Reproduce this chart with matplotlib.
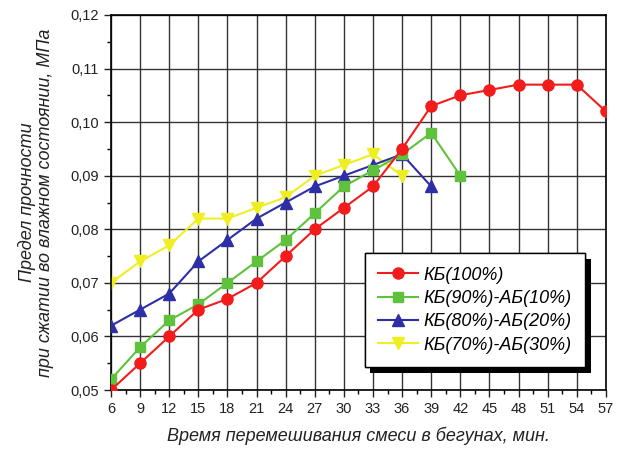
import matplotlib.pyplot as plt
import matplotlib.patheffects as pe
from matplotlib.ticker import MultipleLocator, FuncFormatter

plt.rcParams['font.family'] = ['Liberation Sans', 'DejaVu Sans']

# время перемешивания, мин
t_kb100 = [6, 9, 12, 15, 18, 21, 24, 27, 30, 33, 36, 39, 42, 45, 48, 51, 54, 57]
kb100 = [0.050, 0.055, 0.060, 0.065, 0.067, 0.070, 0.075, 0.080, 0.084, 0.088,
         0.095, 0.103, 0.105, 0.106, 0.107, 0.107, 0.107, 0.102]

t_kb90 = [6, 9, 12, 15, 18, 21, 24, 27, 30, 33, 36, 39, 42]
kb90 = [0.052, 0.058, 0.063, 0.066, 0.070, 0.074, 0.078, 0.083, 0.088, 0.091,
        0.094, 0.098, 0.090]

t_kb80 = [6, 9, 12, 15, 18, 21, 24, 27, 30, 33, 36, 39]
kb80 = [0.062, 0.065, 0.068, 0.074, 0.078, 0.082, 0.085, 0.088, 0.090, 0.092,
        0.094, 0.088]

t_kb70 = [6, 9, 12, 15, 18, 21, 24, 27, 30, 33, 36]
kb70 = [0.070, 0.074, 0.077, 0.082, 0.082, 0.084, 0.086, 0.090, 0.092, 0.094,
        0.090]

labels = ['КБ(100%)', 'КБ(90%)-АБ(10%)', 'КБ(80%)-АБ(20%)', 'КБ(70%)-АБ(30%)']

fig = plt.figure(figsize=(6.22, 4.5), dpi=100)
ax = fig.add_axes([0.1785, 0.1333, 0.7955, 0.8334])

ax.plot(t_kb100, kb100, '-o', color='#f21c1c', lw=1.5, ms=8, label=labels[0], zorder=5)
ax.plot(t_kb90, kb90, '-s', color='#5fc23c', lw=1.5, ms=7, label=labels[1], zorder=4)
ax.plot(t_kb80, kb80, '-^', color='#2e2fa6', lw=1.5, ms=8, label=labels[2], zorder=3)
ax.plot(t_kb70, kb70, '-v', color='#eeee22', lw=1.5, ms=8, label=labels[3], zorder=2)

ax.set_xlim(6, 57)
ax.set_ylim(0.05, 0.12)
ax.xaxis.set_major_locator(MultipleLocator(3))
ax.xaxis.set_minor_locator(MultipleLocator(1.5))
ax.yaxis.set_major_locator(MultipleLocator(0.01))
ax.yaxis.set_minor_locator(MultipleLocator(0.005))
ax.yaxis.set_major_formatter(FuncFormatter(lambda v, p: f'{v:.2f}'.replace('.', ',')))

ax.grid(True, which='major', color='#333333', lw=1.0)
ax.set_axisbelow(True)
for s in ax.spines.values():
    s.set_linewidth(1.2)
ax.tick_params(which='major', direction='out', length=5, width=1.0, labelsize=10.5, colors='#222222')
ax.tick_params(which='minor', direction='out', length=3, width=1.0)

ax.set_xlabel('Время перемешивания смеси в бегунах, мин.', fontsize=13, style='italic',
              color='#222222', labelpad=8)
ax.set_ylabel('Предел прочности\nпри сжатии во влажном состоянии, МПа', fontsize=13,
              style='italic', color='#222222', labelpad=12, linespacing=1.1)

leg = ax.legend(loc='upper left', bbox_to_anchor=(0.513, 0.365), borderaxespad=0,
                fancybox=False, edgecolor='black', framealpha=1,
                prop={'size': 13, 'style': 'italic'}, handlelength=2.2, borderpad=0.75,
                labelspacing=0.35, handletextpad=0.3)
leg.get_frame().set_linewidth(1.0)
leg.get_frame().set_path_effects([pe.withSimplePatchShadow(offset=(4, -4), shadow_rgbFace='k', alpha=1),
                                  pe.Normal()])

fig.savefig('out.png', dpi=100)
